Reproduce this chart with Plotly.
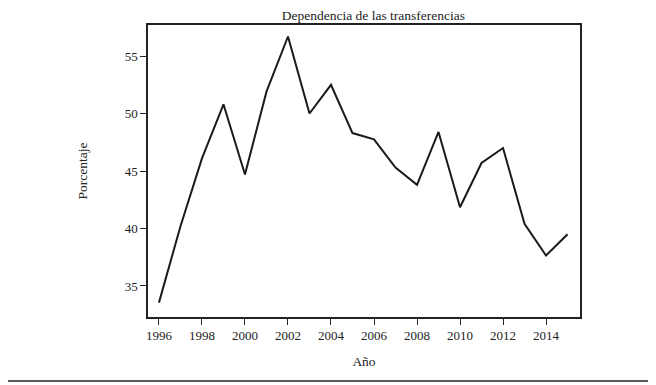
import plotly.graph_objects as go

years = list(range(1996, 2016))
porcentaje = [33.55, 40.2, 46.1, 50.8, 44.7, 51.9, 56.7, 50.0, 52.5, 48.3,
              47.75, 45.3, 43.8, 48.4, 41.85, 45.7, 47.0, 40.4, 37.65, 39.5]
xticks = list(range(1996, 2015, 2))
yticks = [35, 40, 45, 50, 55]

fig = go.Figure()
fig.add_trace(go.Scatter(x=years, y=porcentaje, mode="lines",
                         line=dict(color="#1a1a1a", width=2)))

font = dict(family="Liberation Serif, DejaVu Serif, serif", size=13, color="#222")

# page body has an 8px margin, margins below are shifted to compensate
fig.update_layout(
    width=656, height=385,
    margin=dict(l=140, r=84, t=17, b=76),
    paper_bgcolor="white", plot_bgcolor="white",
    showlegend=False,
    font=font,
    title=dict(text="Dependencia de las transferencias", x=0.557, xanchor="center",
               y=0.994, yanchor="top", font=dict(size=13.5)),
    xaxis=dict(range=[1995.49, 2015.58], tickvals=xticks, showgrid=False,
               zeroline=False, showline=True, mirror=True, linecolor="#222",
               linewidth=1.5, ticks="outside", ticklen=6, tickcolor="#222",
               tickfont=dict(size=13),
               title=dict(text="Año", standoff=14, font=dict(size=13.5))),
    yaxis=dict(range=[32.3, 57.7], tickvals=yticks, showgrid=False,
               zeroline=False, showline=True, mirror=True, linecolor="#222",
               linewidth=1.5, ticks="outside", ticklen=6, tickcolor="#222",
               tickfont=dict(size=13),
               title=dict(text="Porcentaje", standoff=34, font=dict(size=13.5))),
)

fig.add_shape(type="line", xref="paper", yref="paper",
              x0=-0.324, x1=1.1667, y0=-0.219, y1=-0.219,
              line=dict(color="#222", width=1.5))

fig.write_html("out.html")
